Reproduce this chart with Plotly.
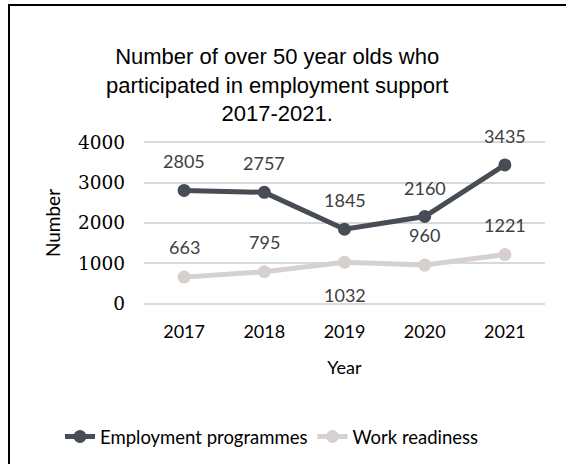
import plotly.graph_objects as go

years = ["2017", "2018", "2019", "2020", "2021"]
employment_programmes = [2805, 2757, 1845, 2160, 3435]
work_readiness = [663, 795, 1032, 960, 1221]
y_ticks = [0, 1000, 2000, 3000, 4000]

DARK = "#474C55"
LIGHT = "#D6D0CE"
TEXT = "#404040"

W, H = 566, 464


def px_x(p):
    return p / W


def px_y(q):
    return (H - q) / H


fig = go.Figure()
fig.add_trace(go.Scatter(
    x=years, y=employment_programmes, name="Employment programmes",
    mode="lines+markers", line=dict(color=DARK, width=5),
    marker=dict(color=DARK, size=13), cliponaxis=False,
))
fig.add_trace(go.Scatter(
    x=years, y=work_readiness, name="Work readiness",
    mode="lines+markers", line=dict(color=LIGHT, width=5),
    marker=dict(color=LIGHT, size=13), cliponaxis=False,
))

label_font = dict(family="Lato", size=18, color=TEXT)
annotations = []
for i, v in enumerate(employment_programmes):
    annotations.append(dict(x=i, y=v, text=str(v), showarrow=False,
                            yshift=29, font=label_font))
for i, v in enumerate(work_readiness):
    shift = -33 if years[i] == "2019" else 30
    annotations.append(dict(x=i, y=v, text=str(v), showarrow=False,
                            yshift=shift, font=label_font))

# chart title
annotations.append(dict(
    xref="paper", yref="paper", x=px_x(277), y=px_y(85),
    xanchor="center", yanchor="middle",
    text="Number of over 50 year olds who<br>participated in employment support<br>2017-2021.",
    showarrow=False, align="center",
    font=dict(family="Liberation Sans", size=22, color="#000000"),
))

fig.update_layout(
    width=W, height=H,
    margin=dict(l=0, r=0, t=0, b=0),
    paper_bgcolor="white", plot_bgcolor="white",
    showlegend=True,
    legend=dict(orientation="h", x=px_x(272), xanchor="center",
                y=px_y(437), yanchor="middle",
                font=dict(family="Lato", size=18.5, color="#000000"),
                tracegroupgap=0),
    annotations=annotations,
    shapes=[dict(type="rect", xref="paper", yref="paper",
                 x0=px_x(9), x1=px_x(620),
                 y0=px_y(520), y1=px_y(5),
                 line=dict(color="#000000", width=2), layer="below")],
    xaxis=dict(type="category", range=[-0.5, 4.5], domain=[px_x(144), px_x(545)],
               automargin=False, showgrid=False, zeroline=False,
               showline=False, ticks="", ticklabelstandoff=11,
               tickfont=dict(family="Lato", size=18, color="#000000"),
               title=dict(text="Year", font=dict(family="Lato", size=18, color="#000000"),
                          standoff=20)),
    yaxis=dict(range=[-100, 4100], tickvals=y_ticks, domain=[px_y(308), px_y(138)],
               automargin=False, showgrid=True, gridcolor="#D9D9D9",
               gridwidth=2, zeroline=False, showline=False, ticks="",
               ticklabelstandoff=18,
               tickfont=dict(family="DejaVu Serif", size=18.5, color="#000000"),
               title=dict(text="Number", font=dict(family="Lato", size=19, color="#000000"),
                          standoff=12)),
)

fig.write_html("out.html")
